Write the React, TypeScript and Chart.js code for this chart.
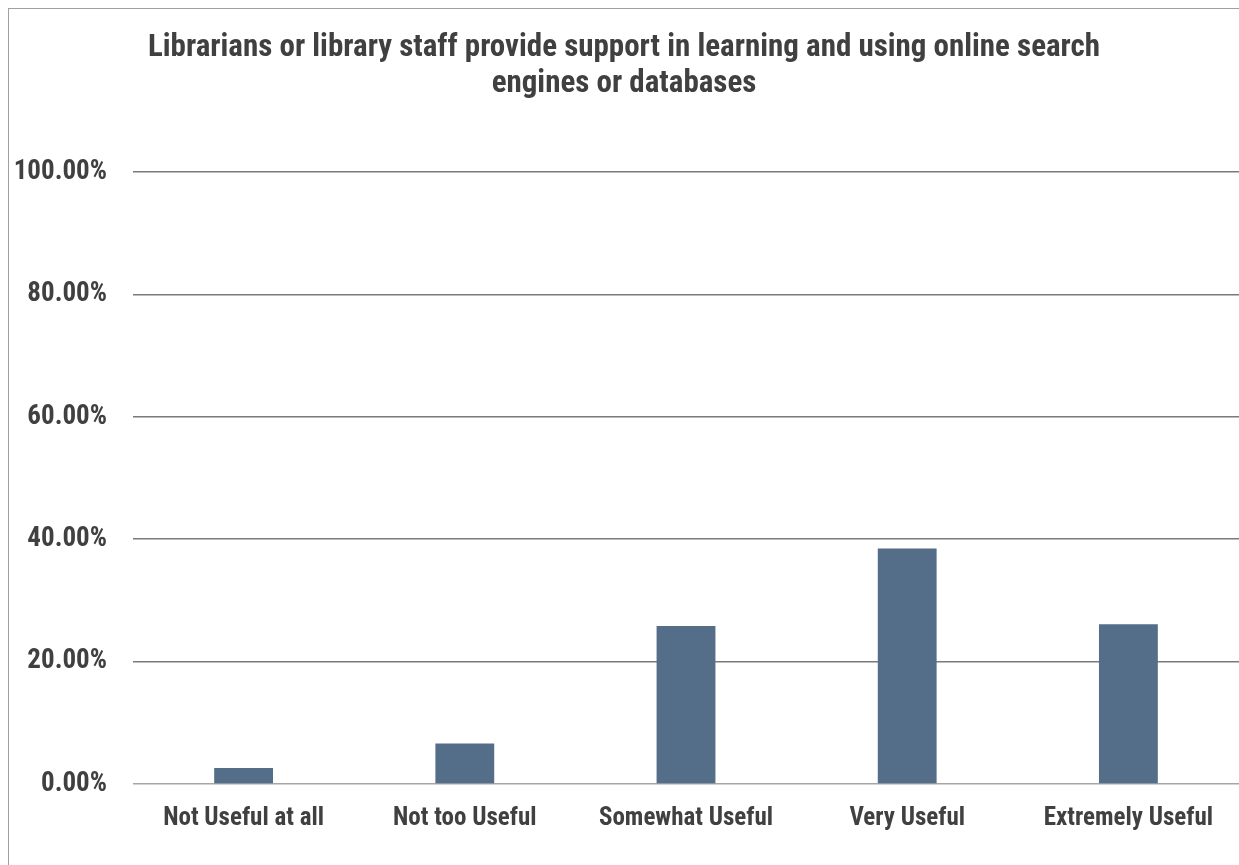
import React, { useEffect, useRef } from "react";
import { Chart, registerables } from "chart.js";

Chart.register(...registerables);

const titleLines = [
  "Librarians or library staff provide support in learning and using online search",
  "engines or databases",
];
const categories = [
  "Not Useful at all",
  "Not too Useful",
  "Somewhat Useful",
  "Very Useful",
  "Extremely Useful",
];
const values = [2.6, 6.6, 25.8, 38.5, 26.1];
const yMin = 0;
const yMax = 100;
const yStep = 20;

const FONT = '"Liberation Sans Narrow", "Arial Narrow", "Roboto Condensed", Roboto, "Liberation Sans", sans-serif';
const TEXT = "#404040";

export default function App() {
  const ref = useRef<HTMLCanvasElement | null>(null);

  useEffect(() => {
    if (!ref.current) return;
    const chart = new Chart(ref.current, {
      type: "bar",
      data: {
        labels: categories,
        datasets: [
          {
            data: values,
            backgroundColor: "#546D89",
            borderWidth: 0,
            categoryPercentage: 1,
            barPercentage: 0.266,
          },
        ],
      },
      options: {
        responsive: false,
        animation: false,
        devicePixelRatio: 1,
        layout: { padding: { top: 0, right: 0, bottom: 0, left: 0 } },
        plugins: {
          legend: { display: false },
          tooltip: { enabled: false },
          title: {
            display: true,
            text: titleLines,
            color: TEXT,
            font: { family: FONT, size: 31, weight: "bold", lineHeight: 36 / 31 },
            padding: { top: 21, bottom: 70 },
          },
        },
        scales: {
          x: {
            grid: { display: false, drawTicks: false },
            border: { display: false },
            ticks: {
              color: TEXT,
              font: { family: FONT, size: 25, weight: "bold" },
              padding: 20,
              maxRotation: 0,
              autoSkip: false,
            },
            afterFit: (scale: any) => {
              scale.height = 81;
            },
          },
          y: {
            min: yMin,
            max: yMax,
            grid: {
              drawTicks: false,
              color: (ctx: any) => (ctx.tick && ctx.tick.value === 0 ? "#a6a6a6" : "#7a7a7a"),
              lineWidth: 1.5,
            },
            border: { display: false },
            ticks: {
              stepSize: yStep,
              color: TEXT,
              padding: 26,
              font: { family: FONT, size: 27, weight: "bold" },
              callback: (v: any) => Number(v).toFixed(2) + "%",
            },
            afterFit: (scale: any) => {
              scale.width = 124;
            },
          },
        },
      },
    });
    return () => chart.destroy();
  }, []);

  return (
    <div
      style={{
        position: "absolute",
        left: 8,
        top: 8,
        width: 1231,
        height: 857,
        borderLeft: "1px solid #a0a0a0",
        borderTop: "1px solid #a0a0a0",
        boxSizing: "border-box",
        overflow: "hidden",
        background: "#fff",
      }}
    >
      <canvas ref={ref} width={1230} height={856} style={{ display: "block" }} />
    </div>
  );
}
